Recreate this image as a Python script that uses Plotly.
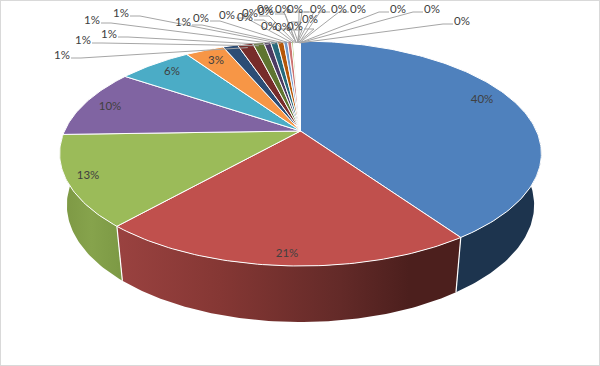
import math
import plotly.graph_objects as go

# Slice shares, percent (clockwise from 12 o'clock)
share_values = [40.4, 21.1, 13.0, 10.0, 6.0, 3.15,
                1.2, 1.25, 0.9, 0.56, 0.57, 0.5,
                0.32, 0.32, 0.16, 0.05, 0.04, 0.04, 0.03, 0.05, 0.04,
                0.03, 0.04, 0.04, 0.03, 0.04, 0.03, 0.04, 0.04, 0.03]
share_labels = ["40%", "21%", "13%", "10%", "6%", "3%",
                "1%", "1%", "1%", "1%", "1%", "1%",
                "0%", "0%", "0%", "0%", "0%", "0%", "0%", "0%", "0%",
                "0%", "0%", "0%", "0%", "0%", "0%", "0%", "0%", "0%"]
slice_colors = ["#4f81bd", "#c0504d", "#9bbb59", "#8064a2", "#4bacc6", "#f79646",
                "#2c4d75", "#772c2a", "#5f7530", "#4d3b62", "#276a7c", "#b65708",
                "#729aca", "#cd7371", "#afc97a", "#ffffff", "#ffffff", "#ffffff",
                "#ffffff", "#ffffff", "#ffffff", "#ffffff", "#ffffff", "#ffffff",
                "#ffffff", "#ffffff", "#ffffff", "#ffffff", "#ffffff", "#ffffff"]

# Label placement in page pixels
inside_label_xy = [(482, 100), (287, 254), (88, 176), (110, 107), (172, 72), (216, 61)]
outside_label_xy = [(62, 56), (83, 41), (109, 35), (92, 21), (121, 14), (183, 23),
                    (201, 19), (227, 16), (245, 18), (250, 14), (265, 10), (266, 12),
                    (269, 27), (283, 28), (283, 10), (295, 10), (295, 27), (310, 20),
                    (318, 10), (339, 10), (358, 10), (398, 10), (432, 10), (462, 22)]

CX, APEX_Y, A, B, P = 300.5, 131.0, 236.0, 108.0, 0.2
WALL_SX, WALL_SY, WALL_Y0 = 0.97, 1.04, 181.6


def top(theta):
    u, v = math.sin(theta), -math.cos(theta)
    w = 1 - P * v
    return CX + A * u / w, APEX_Y + B * v / w


def bottom(theta):
    x, y = top(theta)
    return CX + WALL_SX * (x - CX), WALL_Y0 + WALL_SY * (y - APEX_Y)


def arc(fn, a0, a1):
    n = max(2, int(abs(a1 - a0) / math.radians(1)) + 2)
    pts = [fn(a0 + (a1 - a0) * i / (n - 1)) for i in range(n)]
    return [p[0] for p in pts], [p[1] for p in pts]


total = sum(share_values)
edges = [0.0]
for s in share_values:
    edges.append(edges[-1] + s / total * 2 * math.pi)

fig = go.Figure()


def wall(a0, a1, fill=None, gradient=None):
    xt, yt = arc(top, a0, a1)
    xb, yb = arc(bottom, a1, a0)
    kw = {"fillcolor": fill} if fill else {"fillgradient": gradient}
    fig.add_trace(go.Scatter(x=xt + xb + xt[:1], y=yt + yb + yt[:1], mode="lines", fill="toself",
                             line=dict(color="rgba(0,0,0,0)", width=0), hoverinfo="skip", **kw))


# Side walls of the three front slices
wall(math.radians(80), edges[1], fill="#1d344e")
wall(edges[1], edges[2], gradient=dict(type="horizontal", colorscale=[
    [0, "#9a4240"], [0.3, "#853734"], [0.65, "#632a28"], [0.85, "#4c1f1d"], [1, "#4c1f1d"]]))
wall(edges[2], edges[3], gradient=dict(type="horizontal", colorscale=[
    [0, "#7c9743"], [0.5, "#86a34c"], [1, "#7c9944"]]))
# White seams between walls
for e in (edges[1], edges[2]):
    p, q = top(e), bottom(e)
    fig.add_trace(go.Scatter(x=[p[0], q[0]], y=[p[1], q[1]], mode="lines",
                             line=dict(color="#ffffff", width=1.2), hoverinfo="skip"))

# Top faces
for i, c in enumerate(slice_colors):
    xs, ys = arc(top, edges[i], edges[i + 1])
    fig.add_trace(go.Scatter(x=[CX] + xs + [CX], y=[APEX_Y] + ys + [APEX_Y], mode="lines",
                             fill="toself", fillcolor=c,
                             line=dict(color="#ffffff", width=1), hoverinfo="skip"))

# Leader lines for the outside labels
n_in = len(inside_label_xy)
for k, (lx, ly) in enumerate(outside_label_xy):
    i = n_in + k
    mid = (edges[i] + edges[i + 1]) / 2
    ex, ey = top(mid)
    ex, ey = CX + (ex - CX) * 0.75, APEX_Y + (ey - APEX_Y) * 0.98
    side = 1 if lx < 300 else -1
    sx = lx + side * 9
    kx = sx + side * 10
    fig.add_trace(go.Scatter(x=[sx, kx, ex], y=[ly + 2, ly + 2, ey], mode="lines",
                             line=dict(color="#a6a6a6", width=1), hoverinfo="skip"))

# All labels
xy = inside_label_xy + outside_label_xy
fig.add_trace(go.Scatter(x=[p[0] for p in xy], y=[p[1] for p in xy], mode="text",
                         text=share_labels, textposition="middle center",
                         textfont=dict(family="Lato", size=11.5, color="#404040"),
                         hoverinfo="skip"))

fig.update_layout(
    width=600, height=366, margin=dict(l=0, r=0, t=0, b=0), showlegend=False,
    paper_bgcolor="#ffffff", plot_bgcolor="#ffffff",
    xaxis=dict(range=[0, 600], visible=False, fixedrange=True),
    yaxis=dict(range=[366, 0], visible=False, fixedrange=True),
    shapes=[dict(type="rect", xref="paper", yref="paper", x0=0, y0=0, x1=1, y1=1,
                 line=dict(color="#d9d9d9", width=2), fillcolor="rgba(0,0,0,0)")],
)
fig.write_html("out.html", config={"displayModeBar": False},
               post_script="document.body.style.margin='0';document.documentElement.style.overflow='hidden';")
